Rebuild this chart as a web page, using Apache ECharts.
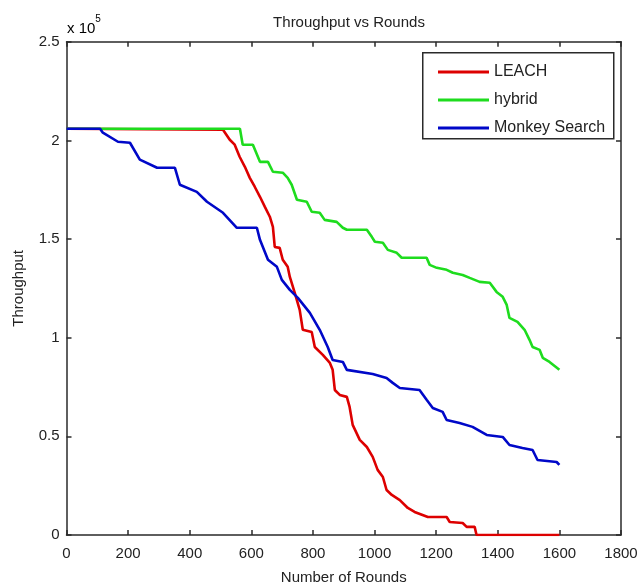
<!DOCTYPE html>
<html>
<head>
<meta charset="utf-8">
<script src="https://cdn.jsdelivr.net/npm/echarts@6/dist/echarts.min.js"></script>
<style>
html,body{margin:0;padding:0;background:#fff;}
#chart{width:638px;height:585px;}
</style>
</head>
<body>
<div id="chart"></div>
<script>
// ---- data (throughput values) ----
var xTicks = [0, 200, 400, 600, 800, 1000, 1200, 1400, 1600, 1800];
var yTicks = [0, 50000, 100000, 150000, 200000, 250000];
var seriesNames = ['LEACH', 'hybrid', 'Monkey Search'];

var leachRounds = [0, 508, 530, 546, 562, 579, 595, 611, 628, 644, 660, 670, 676, 692, 702, 718, 725, 741, 757, 767, 796, 806, 832, 855, 864, 871, 887, 910, 919, 929, 952, 975, 994, 1010, 1027, 1039, 1056, 1082, 1108, 1130, 1173, 1234, 1244, 1286, 1299, 1325, 1331, 1600];
var leachThroughput = [205900, 205400, 200300, 197800, 191700, 186600, 181000, 176500, 171400, 166300, 161300, 156200, 146000, 145500, 139500, 135900, 130800, 122700, 114100, 104000, 102900, 95300, 91300, 87200, 83700, 73500, 71000, 70000, 64900, 55800, 48200, 44600, 39600, 33000, 29400, 22800, 20300, 17700, 13700, 11700, 9100, 9100, 6600, 6100, 4100, 4100, 0, 0];

var hybridRounds = [0, 563, 572, 605, 628, 654, 670, 702, 718, 731, 748, 780, 796, 822, 838, 877, 897, 910, 975, 991, 1001, 1027, 1043, 1072, 1088, 1169, 1179, 1202, 1234, 1254, 1286, 1309, 1341, 1374, 1396, 1416, 1429, 1438, 1464, 1487, 1503, 1513, 1536, 1546, 1568, 1600];
var hybridThroughput = [205900, 205900, 197800, 197800, 189100, 189100, 184100, 183600, 181000, 177500, 169900, 168900, 163800, 163300, 159700, 158700, 155700, 154700, 154700, 151100, 148600, 148100, 144500, 143000, 140500, 140500, 136900, 135400, 134400, 132900, 131800, 130300, 128300, 127800, 123200, 120700, 116600, 110000, 108000, 104000, 98900, 95300, 93800, 89800, 87700, 83700];

var monkeyRounds = [0, 109, 118, 167, 206, 238, 294, 352, 368, 423, 456, 508, 553, 618, 628, 654, 683, 699, 725, 751, 790, 822, 848, 864, 897, 910, 994, 1039, 1059, 1082, 1146, 1169, 1189, 1221, 1234, 1276, 1318, 1364, 1416, 1438, 1480, 1513, 1529, 1591, 1600];
var monkeyThroughput = [205900, 205900, 203900, 199300, 198800, 190200, 186100, 186100, 177500, 173900, 168900, 163300, 155700, 155700, 149600, 139500, 135900, 129300, 124200, 120200, 112600, 104000, 95300, 88700, 87700, 83700, 81600, 79600, 77100, 74500, 73500, 68500, 64400, 62400, 58300, 56800, 54800, 50700, 49700, 45600, 44100, 43100, 38000, 37000, 35500];

var colors = ['#dd0000', '#1edc1e', '#0008c8'];

function zip(xs, ys) { return xs.map(function (x, i) { return [x, ys[i]]; }); }

var chart = echarts.init(document.getElementById('chart'), null, {renderer: 'canvas'});
var font = 'Liberation Sans, Arial, sans-serif';
var axisCommon = {
  axisLine: {show: true, onZero: false, lineStyle: {color: '#2a2a2a', width: 1.5}},
  axisTick: {show: true, inside: true, length: 5, lineStyle: {color: '#2a2a2a', width: 1.5}},
  splitLine: {show: false}
};

var option = {
  animation: false,
  backgroundColor: '#fff',
  title: {
    text: 'Throughput vs Rounds',
    left: 344, top: 10, textAlign: 'center',
    textStyle: {fontFamily: font, fontSize: 15, fontWeight: 'normal', color: '#222'}
  },
  grid: {left: 66.5, right: 17, top: 41.7, bottom: 50, containLabel: false, outerBoundsMode: 'none'},
  legend: {
    orient: 'vertical', left: 433, top: 58,
    itemWidth: 51, itemHeight: 3, itemGap: 10,
    icon: 'rect',
    data: seriesNames,
    textStyle: {fontFamily: font, fontSize: 16, color: '#222', lineHeight: 18}
  },
  xAxis: [
    Object.assign({
      type: 'value', min: xTicks[0], max: xTicks[xTicks.length - 1], interval: 200,
      name: 'Number of Rounds', nameLocation: 'middle', nameGap: 35,
      nameTextStyle: {fontFamily: font, fontSize: 15, color: '#222'},
      axisLabel: {fontFamily: font, fontSize: 15, color: '#222', margin: 11,
        formatter: function (v) { return String(v); }}
    }, axisCommon),
    Object.assign({
      type: 'value', position: 'top', min: 0, max: 1800, interval: 200,
      axisLabel: {show: false}
    }, axisCommon)
  ],
  yAxis: [
    Object.assign({
      type: 'value', min: yTicks[0], max: yTicks[yTicks.length - 1], interval: 50000,
      name: 'Throughput', nameLocation: 'middle', nameGap: 40,
      nameTextStyle: {fontFamily: font, fontSize: 15, color: '#222'},
      axisLabel: {fontFamily: font, fontSize: 15, color: '#222', margin: 7,
        formatter: function (v) { return String(v / 100000); }}
    }, axisCommon),
    Object.assign({
      type: 'value', position: 'right', min: 0, max: 250000, interval: 50000,
      axisLabel: {show: false}
    }, axisCommon)
  ],
  graphic: [
    {
      type: 'rect', left: 422, top: 52, z: 50,
      shape: {width: 191, height: 86},
      style: {fill: 'rgba(0,0,0,0)', stroke: '#2a2a2a', lineWidth: 1.5}
    },
    {
      type: 'text', left: 67, top: 13, z: 50,
      style: {
        text: '{a|x 10}{b|5}',
        rich: {
          a: {fontFamily: font, fontSize: 15, color: '#222', verticalAlign: 'bottom', lineHeight: 22, padding: [8, 0, 0, 0]},
          b: {fontFamily: font, fontSize: 10, color: '#222', verticalAlign: 'top', lineHeight: 22}
        }
      }
    }
  ],
  series: [
    {name: seriesNames[0], type: 'line', showSymbol: false, symbol: 'none', data: zip(leachRounds, leachThroughput), lineStyle: {width: 2.6, color: colors[0]}, itemStyle: {color: colors[0]}},
    {name: seriesNames[1], type: 'line', showSymbol: false, symbol: 'none', data: zip(hybridRounds, hybridThroughput), lineStyle: {width: 2.6, color: colors[1]}, itemStyle: {color: colors[1]}},
    {name: seriesNames[2], type: 'line', showSymbol: false, symbol: 'none', data: zip(monkeyRounds, monkeyThroughput), lineStyle: {width: 2.6, color: colors[2]}, itemStyle: {color: colors[2]}}
  ]
};
chart.setOption(option);
</script>
</body>
</html>
